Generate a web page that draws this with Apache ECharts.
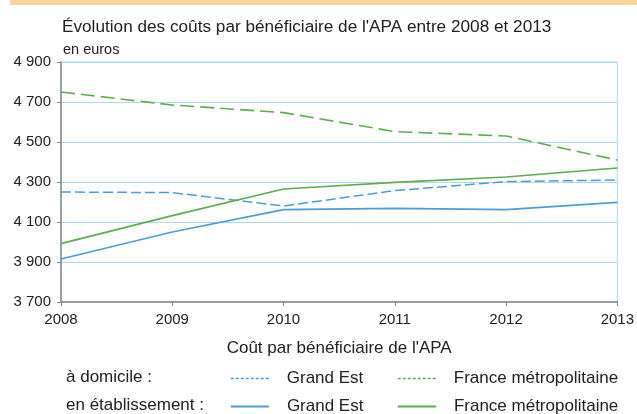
<!DOCTYPE html>
<html><head><meta charset="utf-8">
<script src="https://cdn.jsdelivr.net/npm/echarts@6/dist/echarts.min.js"></script>
<style>html,body{margin:0;padding:0;background:#fff}#c{width:637px;height:414px}</style>
</head><body><div id="c"></div>
<script>
const years = ['2008','2009','2010','2011','2012','2013'];
const geDomicile = [4250, 4247, 4180, 4257, 4302, 4310];
const frDomicile = [4750, 4685, 4647, 4552, 4530, 4410];
const geEtab = [3915, 4050, 4162, 4168, 4162, 4198];
const frEtab = [3992, 4132, 4265, 4298, 4325, 4370];
const yTicks = {min: 3700, max: 4900, interval: 200};

const FONT = '"Liberation Sans", Arial, sans-serif';
const BLUE = '#4A9EDB', GREEN = '#5CAE4F', TXT = '#222';
const chart = echarts.init(document.getElementById('c'), null, {renderer: 'canvas'});

function mkLegend(name, left, top, dashed) {
  return {
    data: [name], left: left, top: top, itemWidth: 38, itemHeight: 12,
    formatter: n => n.split(' (')[0],
    itemStyle: {opacity: 0},
    lineStyle: dashed ? {type: [3, 2], width: 1.5} : {width: 1.8},
    textStyle: {fontFamily: FONT, fontSize: 17, color: TXT, padding: [0, 0, 0, 13]},
    selectedMode: false
  };
}

chart.setOption({
  animation: false,
  textStyle: {fontFamily: FONT},
  title: {
    text: "Évolution des coûts par bénéficiaire de l'APA entre 2008 et 2013",
    left: 57, top: 14,
    textStyle: {fontFamily: FONT, fontSize: 17.2, fontWeight: 'normal', color: TXT}
  },
  graphic: [
    {type: 'rect', shape: {x: 10, y: 0, width: 627, height: 5}, style: {fill: '#F9D59A'}},
    {type: 'text', x: 63, y: 50, style: {text: 'en euros', font: '14.5px ' + FONT, fill: TXT, verticalAlign: 'middle'}},
    {type: 'text', x: 66, y: 377, style: {text: 'à domicile :', font: '17px ' + FONT, fill: TXT, verticalAlign: 'middle'}},
    {type: 'text', x: 66, y: 405, style: {text: 'en établissement :', font: '17px ' + FONT, fill: TXT, verticalAlign: 'middle'}}
  ],
  legend: [
    mkLegend('Grand Est (domicile)', 225, 365, true),
    mkLegend('France métropolitaine (domicile)', 392, 365, true),
    mkLegend('Grand Est (établissement)', 225, 393, false),
    mkLegend('France métropolitaine (établissement)', 392, 393, false)
  ],
  grid: {left: 61, right: 19, top: 62, bottom: 112, show: true, borderColor: '#AED8F2', borderWidth: 1},
  xAxis: {
    type: 'category', data: years, boundaryGap: false,
    name: "Coût par bénéficiaire de l'APA", nameLocation: 'middle', nameGap: 38,
    nameTextStyle: {fontFamily: FONT, fontSize: 17, color: TXT},
    axisLine: {show: true, lineStyle: {color: '#888', width: 1.5}},
    axisTick: {show: true, alignWithLabel: true, length: 4, lineStyle: {color: '#888'}},
    axisLabel: {fontFamily: FONT, fontSize: 15, color: TXT, margin: 10},
    splitLine: {show: false}
  },
  yAxis: {
    type: 'value', min: yTicks.min, max: yTicks.max, interval: yTicks.interval,
    axisLine: {show: true, lineStyle: {color: '#888', width: 1.5}},
    axisTick: {show: true, length: 4, lineStyle: {color: '#888'}},
    axisLabel: {fontFamily: FONT, fontSize: 15, color: TXT, margin: 10,
      formatter: v => String(v).replace(/\B(?=(\d{3})+(?!\d))/g, ' ')},
    splitLine: {show: true, lineStyle: {color: '#AED8F2', width: 1}}
  },
  series: [
    {name: 'Grand Est (domicile)', type: 'line', data: geDomicile, symbol: 'none',
     lineStyle: {color: BLUE, width: 1.5, type: [10, 4]}, itemStyle: {color: BLUE}},
    {name: 'France métropolitaine (domicile)', type: 'line', data: frDomicile, symbol: 'none',
     lineStyle: {color: GREEN, width: 1.6, type: [14, 6]}, itemStyle: {color: GREEN}},
    {name: 'Grand Est (établissement)', type: 'line', data: geEtab, symbol: 'none',
     lineStyle: {color: BLUE, width: 1.6}, itemStyle: {color: BLUE}},
    {name: 'France métropolitaine (établissement)', type: 'line', data: frEtab, symbol: 'none',
     lineStyle: {color: GREEN, width: 1.6}, itemStyle: {color: GREEN}}
  ]
});
</script></body></html>
